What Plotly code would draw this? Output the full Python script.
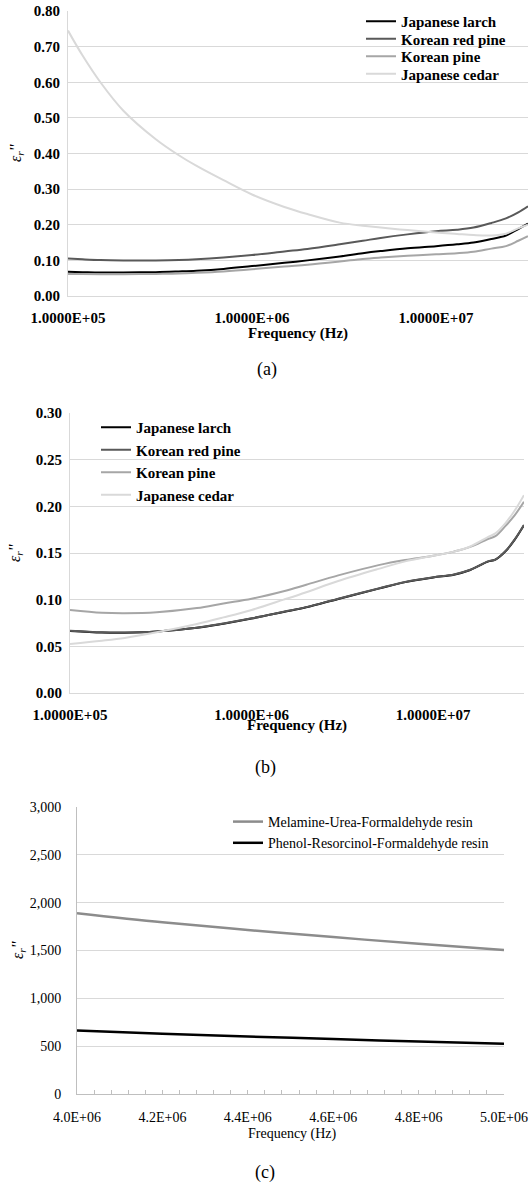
import plotly.graph_objects as go

# ---------------- data: panel (a) ----------------
freq_a = [1.0e5, 1.2e5, 1.5e5, 2.0e5, 3.0e5, 4.0e5, 5.0e5, 7.0e5, 1.0e6, 1.5e6, 2.0e6, 3.0e6,
          4.0e6, 5.0e6, 7.0e6, 1.0e7, 1.3e7, 1.6e7, 2.0e7, 2.4e7, 2.8e7, 3.16e7]
larch_a = [0.068, 0.067, 0.066, 0.066, 0.067, 0.069, 0.071, 0.076, 0.084, 0.093, 0.100, 0.111,
           0.120, 0.126, 0.134, 0.140, 0.145, 0.150, 0.160, 0.170, 0.188, 0.203]
redpine_a = [0.105, 0.103, 0.101, 0.100, 0.100, 0.101, 0.103, 0.108, 0.115, 0.125, 0.132, 0.145,
             0.155, 0.163, 0.173, 0.182, 0.186, 0.192, 0.205, 0.218, 0.235, 0.252]
pine_a = [0.062, 0.0615, 0.061, 0.061, 0.062, 0.063, 0.065, 0.069, 0.075, 0.083, 0.088, 0.097,
          0.104, 0.108, 0.113, 0.117, 0.120, 0.124, 0.133, 0.140, 0.155, 0.168]
cedar_a = [0.745, 0.675, 0.600, 0.520, 0.440, 0.395, 0.365, 0.325, 0.285, 0.250, 0.230, 0.206,
           0.197, 0.192, 0.185, 0.178, 0.174, 0.171, 0.170, 0.175, 0.190, 0.200]

# ---------------- data: panel (b) ----------------
freq_b = [1.0e5, 1.5e5, 2.0e5, 3.0e5, 5.0e5, 7.0e5, 1.0e6, 1.5e6, 2.0e6, 3.0e6, 5.0e6,
          7.0e6, 1.0e7, 1.3e7, 1.6e7, 2.0e7, 2.2e7, 2.5e7, 2.8e7, 3.16e7]
larch_b = [0.0665, 0.0648, 0.0646, 0.0658, 0.0698, 0.0743, 0.0798, 0.0868, 0.0918, 0.1008,
           0.1118, 0.1188, 0.1238, 0.1268, 0.1318, 0.1408, 0.1428, 0.1518, 0.1638, 0.1798]
redpine_b = [0.0667, 0.0650, 0.0648, 0.0660, 0.0700, 0.0745, 0.0800, 0.0870, 0.0920, 0.1010,
             0.1120, 0.1190, 0.1240, 0.1270, 0.1320, 0.1410, 0.1430, 0.1520, 0.1640, 0.1800]
pine_b = [0.0890, 0.0860, 0.0855, 0.0865, 0.0910, 0.0960, 0.1010, 0.1090, 0.1160, 0.1260,
          0.1370, 0.1425, 0.1470, 0.1515, 0.1565, 0.1650, 0.1680, 0.1790, 0.1900, 0.2050]
cedar_b = [0.0525, 0.0560, 0.0590, 0.0650, 0.0740, 0.0810, 0.0890, 0.1000, 0.1080, 0.1200,
           0.1330, 0.1410, 0.1470, 0.1515, 0.1570, 0.1670, 0.1710, 0.1820, 0.1950, 0.2120]

# ---------------- data: panel (c) ----------------
freq_c = [4.0e6, 4.2e6, 4.4e6, 4.6e6, 4.8e6, 5.0e6]
muf_c = [1890, 1795, 1715, 1640, 1570, 1505]
prf_c = [665, 630, 600, 575, 548, 525]

species = ["Japanese larch", "Korean red pine", "Korean pine", "Japanese cedar"]
colors = ["#000000", "#595959", "#a6a6a6", "#d9d9d9"]
log_ticks = [1.0e5, 1.0e6, 1.0e7]
log_ticktext = ["1.0000E+05", "1.0000E+06", "1.0000E+07"]
c_ticks = [4.0e6, 4.2e6, 4.4e6, 4.6e6, 4.8e6, 5.0e6]
c_ticktext = ["4.0E+06", "4.2E+06", "4.4E+06", "4.6E+06", "4.8E+06", "5.0E+06"]
resins = ["Melamine-Urea-Formaldehyde resin", "Phenol-Resorcinol-Formaldehyde resin"]
resin_colors = ["#8c8c8c", "#000000"]

W, H = 530, 1183
SERIF = "Liberation Serif"


def fx(p):
    return p / W


def fy(p):
    return 1 - p / H


fig = go.Figure()

legend_a = ["legend", "legend2", "legend3", "legend4"]
for name, vals, col, lg in zip(species, [larch_a, redpine_a, pine_a, cedar_a], colors, legend_a):
    fig.add_trace(go.Scatter(x=freq_a, y=vals, mode="lines", name=name,
                             line=dict(color=col, width=2, shape="spline"),
                             xaxis="x", yaxis="y", legend=lg, hoverinfo="skip"))

for name, vals, col in zip(species, [larch_b, redpine_b, pine_b, cedar_b], colors):
    fig.add_trace(go.Scatter(x=freq_b, y=vals, mode="lines", name=name,
                             line=dict(color=col, width=2, shape="spline"),
                             xaxis="x2", yaxis="y2", legend="legend5", hoverinfo="skip"))

for name, vals, col in zip(resins, [muf_c, prf_c], resin_colors):
    fig.add_trace(go.Scatter(x=freq_c, y=vals, mode="lines", name=name,
                             line=dict(color=col, width=2.5, shape="spline"),
                             xaxis="x3", yaxis="y3", legend="legend6", hoverinfo="skip"))

bold15 = dict(family=SERIF, size=15, color="#000000", weight="bold")
reg14 = dict(family=SERIF, size=14, color="#000000")
grid = "#d9d9d9"

common_leg = dict(xanchor="left", yanchor="top", bgcolor="rgba(0,0,0,0)", borderwidth=0,
                  tracegroupgap=0, itemwidth=30)

layout_legends = {}
for i, lg in enumerate(legend_a):
    layout_legends[lg] = dict(x=fx(361), y=fy(5 + 17.5 * i), font=bold15, **common_leg)
layout_legends["legend5"] = dict(x=fx(96), y=fy(411), font=bold15, **common_leg)
layout_legends["legend6"] = dict(x=fx(228), y=fy(806), font=reg14, **common_leg)

ax_common = dict(automargin=False, ticklabeloverflow="allow", zeroline=False)

fig.update_layout(
    width=W, height=H,
    margin=dict(l=0, r=0, t=0, b=0),
    paper_bgcolor="white", plot_bgcolor="white",
    showlegend=True,
    xaxis=dict(domain=[fx(68), fx(528)], anchor="y", type="log", range=[5, 7.5],
               tickvals=log_ticks, ticktext=log_ticktext, showgrid=False,
               showline=True, linecolor=grid, linewidth=1, ticks="",
               tickfont=bold15, ticklabelstandoff=8, **ax_common),
    yaxis=dict(domain=[fy(296), fy(11)], anchor="x", range=[0, 0.8], dtick=0.1,
               tickformat=".2f", showgrid=True, gridcolor=grid, gridwidth=1,
               showline=True, linecolor=grid, ticks="",
               tickfont=bold15, ticklabelstandoff=4, **ax_common),
    xaxis2=dict(domain=[fx(70), fx(524)], anchor="y2", type="log", range=[5, 7.5],
                tickvals=log_ticks, ticktext=log_ticktext, showgrid=False,
                showline=True, linecolor=grid, linewidth=1, ticks="",
                tickfont=bold15, ticklabelstandoff=8, **ax_common),
    yaxis2=dict(domain=[fy(693), fy(413)], anchor="x2", range=[0, 0.30], dtick=0.05,
                tickformat=".2f", showgrid=True, gridcolor=grid, gridwidth=1,
                showline=True, linecolor=grid, ticks="",
                tickfont=bold15, ticklabelstandoff=4, **ax_common),
    xaxis3=dict(domain=[fx(77), fx(504)], anchor="y3", range=[4.0e6, 5.0e6],
                tickvals=c_ticks, ticktext=c_ticktext, showgrid=False,
                showline=True, linecolor="#bfbfbf", linewidth=1,
                ticks="inside", ticklen=4, tickcolor="#bfbfbf",
                minor=dict(ticks="inside", ticklen=4, dtick=40000, tickcolor="#bfbfbf",
                           showgrid=False),
                tickfont=reg14, ticklabelstandoff=10, **ax_common),
    yaxis3=dict(domain=[fy(1094), fy(807)], anchor="x3", range=[0, 3000], dtick=500,
                tickformat=",d", showgrid=True, gridcolor=grid, gridwidth=1,
                showline=True, linecolor="#bfbfbf", ticks="",
                tickfont=reg14, ticklabelstandoff=12, **ax_common),
    **layout_legends,
)

ann = []
# x-axis titles
for xc, yc, bold in [(298, 333, True), (297, 726, True), (292, 1134, False)]:
    ann.append(dict(text="Frequency (Hz)", x=fx(xc), y=fy(yc), xref="paper", yref="paper",
                    showarrow=False, xanchor="center", yanchor="middle",
                    font=bold15 if bold else reg14))
# y-axis titles
for xc, yc in [(16, 153), (16, 553), (18, 950)]:
    ann.append(dict(text="<i>ε<sub>r</sub>''</i>", x=fx(xc), y=fy(yc), xref="paper",
                    yref="paper", showarrow=False, textangle=-90, xanchor="center",
                    yanchor="middle", font=dict(family=SERIF, size=16, color="#000000")))
# captions
for lab, xc, yc in [("(a)", 267, 370), ("(b)", 265, 767), ("(c)", 265, 1172)]:
    ann.append(dict(text=lab, x=fx(xc), y=fy(yc), xref="paper", yref="paper",
                    showarrow=False, xanchor="center", yanchor="middle",
                    font=dict(family=SERIF, size=18, color="#000000")))
fig.update_layout(annotations=ann)

# remove the browser's default 8px body margin so the 530x1183 figure fills the window
fig.write_html("out.html", config={"displayModeBar": False},
               post_script="document.body.style.margin='0';document.body.style.overflow='hidden';")
